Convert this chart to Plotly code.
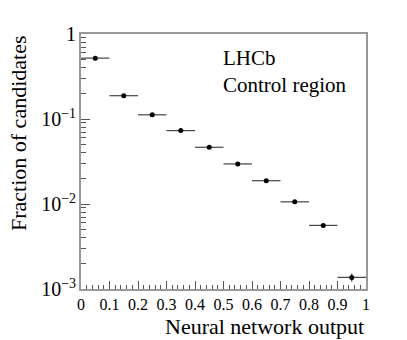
import plotly.graph_objects as go

# bin centres and fractions
bin_centres = [0.05, 0.15, 0.25, 0.35, 0.45, 0.55, 0.65, 0.75, 0.85, 0.95]
bin_halfwidth = [0.05] * 10
fraction = [0.52, 0.188, 0.112, 0.073, 0.0465, 0.0296, 0.0188, 0.0106, 0.0056, 0.00137]
fraction_err = [0.004, 0.002, 0.0015, 0.0012, 0.0009, 0.0007, 0.0005, 0.0003, 0.0002, 0.00015]

x_ticks = [0, 0.1, 0.2, 0.3, 0.4, 0.5, 0.6, 0.7, 0.8, 0.9, 1]
x_ticktext = ["0", "0.1", "0.2", "0.3", "0.4", "0.5", "0.6", "0.7", "0.8", "0.9", "1"]

serif = "Liberation Serif, DejaVu Serif, Times New Roman, serif"

fig = go.Figure()
fig.add_trace(go.Scatter(
    x=bin_centres, y=fraction, mode="markers",
    marker=dict(color="black", size=5),
    error_x=dict(type="data", array=bin_halfwidth, color="#444", thickness=1.2, width=0),
    error_y=dict(type="data", array=fraction_err, color="#444", thickness=1.2, width=0),
    showlegend=False,
))

fig.update_xaxes(
    range=[0, 1], automargin=False,
    tickvals=x_ticks, ticktext=x_ticktext,
    ticks="inside", ticklen=8, tickcolor="#555",
    minor=dict(dtick=0.02, tick0=0, ticks="inside", ticklen=4, tickcolor="#555"),
    showline=True, linecolor="#999", linewidth=1.5, mirror=True,
    showgrid=False, zeroline=False,
    tickfont=dict(family=serif, size=16, color="black"),
)
fig.update_yaxes(
    type="log", range=[-3, 0], dtick=1, automargin=False,
    exponentformat="power",
    ticks="inside", ticklen=9, tickcolor="#555",
    minor=dict(ticks="inside", ticklen=5, tickcolor="#555", dtick="D1"),
    showline=True, linecolor="#999", linewidth=1.5, mirror=True,
    showgrid=False, zeroline=False,
    tickfont=dict(family=serif, size=16, color="black"),
)

# ROOT-style axis titles, aligned to the axis ends
fig.add_annotation(
    x=1, y=-0.09, xref="paper", yref="paper",
    xanchor="right", yanchor="top",
    text="Neural network output", showarrow=False,
    font=dict(family=serif, size=22, color="black"),
)
fig.add_annotation(
    x=-0.22, y=1.005, xref="paper", yref="paper",
    xanchor="center", yanchor="top", textangle=-90,
    text="Fraction of candidates", showarrow=False,
    font=dict(family=serif, size=22, color="black"),
)

fig.add_annotation(
    x=0.49, y=0.96, xref="paper", yref="paper",
    xanchor="left", yanchor="top", align="left",
    text="LHCb<br>Control region", showarrow=False,
    font=dict(family=serif, size=21, color="black"),
)

fig.update_layout(
    width=407, height=340,
    margin=dict(l=81, r=41, t=34, b=51),
    plot_bgcolor="white", paper_bgcolor="white",
)

fig.write_html("out.html", config={"displayModeBar": False},
               post_script="document.body.style.margin='0';")
